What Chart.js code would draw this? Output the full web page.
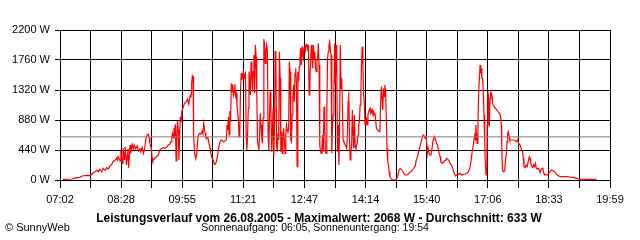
<!DOCTYPE html>
<html>
<head>
<meta charset="utf-8">
<title>Leistungsverlauf 26.08.2005</title>
<script src="https://cdn.jsdelivr.net/npm/chart.js@4.4.1/dist/chart.umd.min.js"></script>
<style>
    html, body { margin: 0; padding: 0; background: #ffffff; }
    #wrap { width: 640px; height: 240px; }
</style>
</head>
<body>
<div id="wrap"><canvas id="powerChart" width="640" height="240"></canvas></div>
<script>
// time of day in minutes after midnight
const minutes = [
    426, 440, 441, 450, 453, 460, 465, 468, 471, 474, 476, 478, 481, 483, 486, 488, 490, 493, 495, 497,
    500, 502, 503, 504, 507, 508, 510, 511, 513, 514, 516, 518, 519, 521, 522, 524, 526, 527, 529, 531, 533,
    535, 536, 538, 540, 542, 543, 545, 547, 548, 549, 551, 552, 553, 555, 558, 561, 563, 566, 568, 570,
    573, 575, 577, 579, 580, 581, 582, 583, 584, 585, 586, 587, 588, 589, 590, 591, 592, 593, 594, 595,
    597, 598, 600, 601, 602, 604, 605, 606, 607, 608, 608, 609, 610, 610, 611, 611, 612, 613, 614, 615,
    616, 617, 619, 621, 623, 624, 625, 626, 627, 628, 629, 631, 632, 634, 635, 637, 639, 640, 641, 643,
    645, 646,
    648, 650, 653, 655, 657, 658, 659, 660, 661, 662, 663, 664, 665, 666, 667, 668, 669, 670, 671, 672,
    674, 675, 676, 677, 678, 679, 680, 681, 682, 683, 684, 685, 686, 687, 688, 689, 690, 691, 692, 693,
    694, 695, 696, 697, 698, 699, 700, 701, 702, 703, 704, 705, 706, 707, 708, 709, 710, 711, 712, 713,
    714, 715, 716, 717, 718, 719, 720, 721, 722, 723, 724, 725, 726, 727, 728, 729, 730, 731, 732, 733,
    734, 735, 736, 737, 738, 739, 740, 741, 742, 743, 744, 745, 746, 747, 748, 749, 750, 751, 752, 753,
    754, 755, 756, 757, 758, 759, 760,
    761, 762, 763, 764, 765, 766, 767, 768, 769, 770, 771, 772, 773, 774, 775, 776, 777, 778, 779, 780,
    781, 782, 783, 784, 785, 786, 787, 788, 789, 790, 791, 792, 793, 794, 795, 796, 797, 798, 799, 800,
    801, 802, 803, 804, 805, 806, 807, 808, 809, 810, 811, 812, 813, 814, 815, 816, 817, 818, 819, 820,
    821, 822, 823, 824, 825, 826, 827, 828, 829, 830, 831, 832, 833, 834, 835, 836, 837, 838, 839, 840,
    841, 842, 843, 844, 845, 846, 847, 848, 849, 850, 851, 852, 853, 854, 855, 856, 857, 858, 859, 860,
    861, 862, 863, 864, 865, 866, 867, 868, 869, 871, 873,
    874, 875, 876, 877, 878, 879, 880, 881, 882, 883, 884, 885, 886, 887, 888, 890, 891, 893, 895, 897,
    899, 900, 901, 903, 905, 907, 909, 912, 914, 916, 919, 921, 924, 925, 927, 928, 930, 931, 933, 934,
    935, 937, 938, 939, 940, 941, 942, 944, 946, 947, 949, 950, 951, 952, 954, 956, 957, 959, 960, 962,
    964, 965, 967, 968, 970, 972, 973, 975, 977, 978, 980, 981, 982, 985, 987,
    989.5, 992, 994, 996.5, 999, 1001, 1002.5, 1004, 1005, 1006, 1007, 1008, 1009, 1009.5, 1010.5,
    1011.5, 1012.5, 1013.5, 1014.5, 1015.5, 1016.5, 1017, 1018, 1019, 1020, 1021, 1022, 1023, 1024, 1025,
    1025.5, 1026.5, 1027.5, 1028.5, 1029.5, 1030.5, 1031.5, 1032.5, 1033, 1034, 1035.5, 1037, 1039,
    1040.5, 1041.5, 1043, 1044.5, 1045.5, 1046, 1047, 1048.5, 1049.5, 1050.5, 1051.5, 1052.5, 1053.5,
    1054.5, 1055.5, 1056.5, 1057.5, 1060, 1062.5, 1065, 1067, 1068.5, 1070, 1072, 1073.5, 1075.5, 1076.5,
    1077.5, 1079, 1080.5, 1082, 1083.5, 1085, 1086, 1087, 1088.5, 1090, 1091, 1092.5, 1093.5, 1095,
    1096.5, 1098, 1099,
    1100, 1101.5, 1103, 1104, 1105, 1106.5, 1108.5, 1110.5, 1112.5, 1114, 1116.5, 1119, 1121.5, 1123.5,
    1126, 1128.5, 1133, 1138, 1142.5, 1147, 1152, 1154.5, 1156.5, 1161.5, 1170.5, 1180
];

// power output in W
const watts = [
    10, 15, 24, 39, 59, 68, 64, 98, 117, 142, 122, 156, 122, 171, 142, 181, 161, 210, 230, 269,
    293, 318, 293, 342, 279, 425, 244, 464, 293, 489, 220, 455, 181, 513, 391, 523, 455, 513, 455, 503, 425,
    455, 416, 474, 391, 489, 587, 660, 670, 621, 538, 464, 328, 279, 308, 337, 367, 440, 464, 474, 464,
    484, 513, 523, 562, 636, 684, 621, 758, 684, 816, 279, 660, 865, 733, 293, 660, 929, 855, 1002, 1027,
    1100, 1124, 1149, 1159, 1188, 1110, 1198, 1237, 1222, 1296, 1418, 1530, 1516, 1393, 1002, 660, 415, 342, 328, 367,
    513, 636, 684, 670, 719, 684, 831, 758, 684, 636, 611, 621, 562, 464, 391, 318, 279, 230, 230, 269,
    376, 464,
    562, 587, 562, 572, 587, 807, 733, 929, 660, 1012, 855, 1418, 1296, 1403, 1247, 1296, 1403, 1232, 1271, 1100,
    880, 636, 733, 1296, 1565, 1467, 1540, 1589, 1491, 1540, 1565, 660, 440, 660, 1051, 1589, 1442, 1247, 1736, 1613,
    1296, 1589, 1833, 1271, 1980, 1809, 1271, 562, 513, 440, 660, 978, 807, 611, 538, 904, 2068, 1980, 1711, 1882,
    1980, 1907, 660, 440, 953, 1296, 1051, 415, 660, 1051, 342, 733, 1892, 1736, 513, 415, 684, 587, 1882, 1491,
    415, 709, 391, 660, 758, 587, 391, 660, 807, 733, 709, 733, 1736, 1589, 587, 562, 953, 1198, 1393, 1149,
    1565, 1638, 1442, 196, 1589, 1442, 1662,
    1784, 1931, 1687, 1956, 1833, 1784, 1931, 1980, 1907, 1990, 1980, 1931, 1956, 1247, 1491, 1687, 1980, 1833, 1638, 1980,
    1784, 1882, 1638, 1589, 1736, 1784, 2005, 1687, 513, 415, 391, 464, 660, 415, 1076, 807, 415, 391, 1051, 1784,
    1882, 1980, 2029, 1907, 1833, 391, 807, 953, 1296, 2005, 1418, 1980, 1589, 415, 807, 220, 807, 1980, 1344, 1491,
    1051, 587, 562, 538, 513, 489, 464, 636, 1149, 1296, 587, 293, 415, 513, 1027, 660, 464, 953, 489, 464,
    513, 538, 660, 807, 855, 1100, 1247, 1711, 1956, 1687, 1247, 1100, 807, 880, 904, 807, 953, 1002, 1027, 1051,
    978, 992, 1027, 978, 1002, 953, 978, 880, 758, 733, 709,
    733, 1149, 1369, 1198, 1027, 1344, 1222, 1393, 1296, 904, 464, 269, 220, 122, 49, 15, 0, 0, 0, 10,
    49, 98, 147, 171, 147, 112, 73, 73, 88, 108, 132, 161, 210, 279, 342, 391, 464, 513, 587, 636,
    660, 636, 611, 660, 562, 391, 464, 367, 367, 415, 587, 611, 636, 611, 538, 489, 415, 342, 269, 244,
    259, 279, 293, 318, 303, 279, 244, 220, 171, 122, 73, 59, 73, 83, 98,
    73, 83, 88, 98, 122, 171, 269, 391, 464, 513, 611, 684, 587, 807, 660,
    538, 807, 1296, 1491, 1687, 1565, 1638, 1491, 1491, 1296, 953, 562, 220, 73, 122,
    807, 1296, 1198, 782, 1198, 1296, 1271, 1222, 1124, 1100, 1076, 1051, 1027,
    1002, 992, 978, 929, 807, 513, 147, 122, 132, 171, 318, 367, 562,
    684, 709, 636, 587, 587, 587, 577, 562, 587, 538, 513, 464, 415, 318,
    196, 181, 220, 196, 269, 342, 318, 244, 196, 181, 220, 196, 244, 171,
    161, 171, 147,
    122, 147, 171, 181, 122, 73, 83, 73, 98, 122, 147, 132, 112, 83,
    64, 49, 49, 49, 44, 39, 24, 15, 10, 10, 10, 10
];

const tickLabels = ["07:02", "08:28", "09:55", "11:21", "12:47", "14:14", "15:40", "17:06", "18:33", "19:59"];
const dayStart = 422;   // 07:02
const dayEnd = 1199;    // 19:59
const average = 633;
const yLabels = [0, 440, 880, 1320, 1760, 2200];

const titleText = "Leistungsverlauf vom 26.08.2005 - Maximalwert: 2068 W - Durchschnitt: 633 W";
const sunText = "Sonnenaufgang: 06:05, Sonnenuntergang: 19:54";
const creditText = "\u00A9 SunnyWeb";

const FONT = "'Liberation Sans', Arial, sans-serif";

// 19 grid lines, a label on every second one
const gridSteps = (tickLabels.length - 1) * 2;
const xTicks = [];
for (let k = 0; k <= gridSteps; k++) {
    xTicks.push({ value: dayStart + (dayEnd - dayStart) * k / gridSteps });
}

const footerText = {
    id: "footerText",
    afterDraw(chart) {
        const ctx = chart.ctx;
        ctx.save();
        ctx.fillStyle = "#000000";
        ctx.textBaseline = "alphabetic";
        ctx.textAlign = "center";
        ctx.font = "bold 12px " + FONT;
        ctx.fillText(titleText, 319, 222);
        ctx.font = "10.5px " + FONT;
        ctx.fillText(sunText, 315, 231);
        ctx.textAlign = "left";
        ctx.font = "11px " + FONT;
        ctx.fillText(creditText, 5, 231);
        ctx.restore();
    }
};

const ctx = document.getElementById("powerChart").getContext("2d");
new Chart(ctx, {
    type: "line",
    data: {
        datasets: [
            {
                label: "Durchschnitt",
                data: [{ x: dayStart, y: average }, { x: dayEnd, y: average }],
                borderColor: "#808080",
                borderWidth: 1,
                pointRadius: 0
            },
            {
                label: "Leistung",
                data: minutes.map((m, i) => ({ x: m, y: watts[i] })),
                borderColor: "#ff0000",
                borderWidth: 1.2,
                pointRadius: 0,
                tension: 0
            }
        ]
    },
    options: {
        responsive: false,
        animation: false,
        devicePixelRatio: 1,
        layout: { padding: { top: 30, right: 30, bottom: 0, left: 0 } },
        plugins: {
            legend: { display: false },
            tooltip: { enabled: false },
            title: { display: false }
        },
        scales: {
            x: {
                type: "linear",
                min: dayStart,
                max: dayEnd,
                afterBuildTicks: (scale) => { scale.ticks = xTicks.map(t => ({ value: t.value })); },
                afterFit: (scale) => { scale.height = 60; },
                grid: { color: "#000000", lineWidth: 1, tickLength: 8, drawTicks: true },
                border: { color: "#000000", width: 1 },
                ticks: {
                    autoSkip: false,
                    maxRotation: 0,
                    padding: 5,
                    color: "#000000",
                    font: { family: FONT, size: 11 },
                    callback: (value, index) => index % 2 === 0 ? tickLabels[index / 2] : ""
                }
            },
            y: {
                min: 0,
                max: 2200,
                afterBuildTicks: (scale) => { scale.ticks = yLabels.map(v => ({ value: v })); },
                afterFit: (scale) => { scale.width = 60; },
                grid: { color: "#000000", lineWidth: 1, tickLength: 5 },
                border: { color: "#000000", width: 1 },
                ticks: {
                    padding: 5,
                    color: "#000000",
                    font: { family: FONT, size: 11 },
                    callback: (value) => value + " W"
                }
            }
        }
    },
    plugins: [footerText]
});
</script>
</body>
</html>
